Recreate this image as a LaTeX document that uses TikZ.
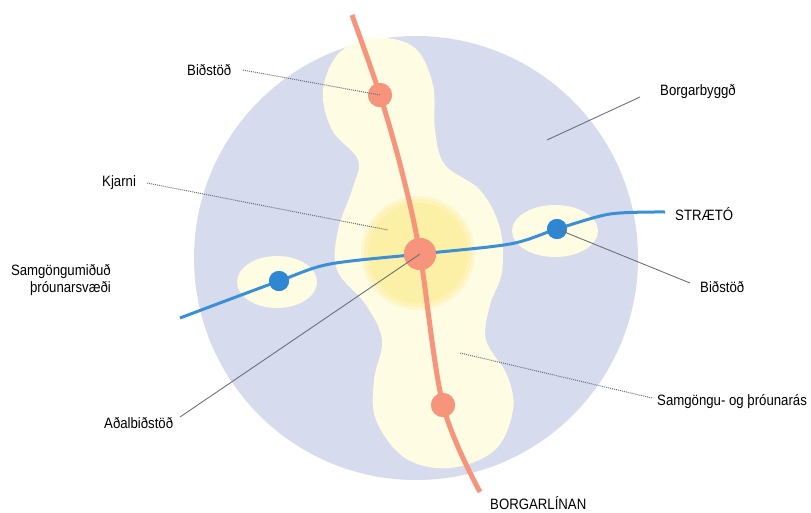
\documentclass[tikz,border=0pt]{standalone}
\usepackage{fontspec}
\setmainfont[FakeStretch=0.88]{Liberation Sans}
\definecolor{cityc}{HTML}{D6DBEE}
\definecolor{palec}{HTML}{FEFCE2}
\definecolor{corec}{HTML}{FCEFA6}
\definecolor{orangec}{HTML}{F6957C}
\definecolor{bluec}{HTML}{3B8FD5}
\definecolor{bluest}{HTML}{2E87D3}
\definecolor{leadc}{HTML}{6C7079}
\begin{document}
\begin{tikzpicture}[x=1pt,y=-1pt,
  lbl/.style={font=\fontsize{15}{17}\selectfont, inner sep=0pt, text=black},
  leader/.style={draw=leadc, line width=0.9pt},
  dotleader/.style={draw=leadc, line width=1pt, densely dotted},
  ostation/.style={circle, fill=orangec, inner sep=0pt},
  bstation/.style={circle, fill=bluest, inner sep=0pt, minimum size=20pt}]
\useasboundingbox (0,0) rectangle (811,512);
% city area
\fill[cityc] (416,258) circle (222);
% corridor
\fill[palec] plot[smooth cycle, tension=0.6] coordinates {
 (378,38) (415,48) (433,85) (435,130) (445,165) (480,190) (500,228) (502,272)
 (490,305) (486,340) (507,375) (513,410) (495,450) (450,468) (405,458) (376,420)
 (374,380) (382,340) (366,305) (337,270) (338,230) (352,190) (358,160) (332,130)
 (323,90) (340,52)};
\fill[palec] (277,282) ellipse (40 and 26);
\fill[palec] (555,231) ellipse (43 and 26);
% core
\fill[corec!35!palec] (418,253) circle (57);
\fill[corec!70!palec] (418,253) circle (54);
\fill[corec] (418,253) circle (50);
% stations
\node[ostation, minimum size=24pt] (s1) at (380,95) {};
\node[ostation, minimum size=32pt] (hub) at (420,254) {};
\node[ostation, minimum size=24pt] (s3) at (443,405) {};
\node[bstation] (b1) at (279,281) {};
\node[bstation] (b2) at (557,229) {};
% line coordinates
\coordinate (oA) at (352,15);
\coordinate (oB) at (402,172);
\coordinate (oE) at (480,492);
\coordinate (bA) at (180,318);
\coordinate (bB) at (330,264);
\coordinate (bC) at (510,244);
\coordinate (bD) at (610,214);
\coordinate (bE) at (665,212);
% Borgarlinan
\draw[orangec, line width=5pt] plot[smooth, tension=0.55] coordinates {(oA) (s1.center) (oB) (hub.center) (s3.center) (oE)};
% Straeto
\draw[bluec, line width=3pt] plot[smooth, tension=0.5] coordinates {(bA) (b1.center) (bB) (hub.center) (bC) (b2.center) (bD) (bE)};
\node[ostation, minimum size=24pt] at (s1) {};
\node[ostation, minimum size=32pt] at (hub) {};
\node[ostation, minimum size=24pt] at (s3) {};
\node[bstation] at (b1) {};
\node[bstation] at (b2) {};
% labels
\node[lbl, anchor=west] (tBid) at (187,70) {Biðstöð};
\node[lbl, anchor=west] (tKj) at (102,183) {Kjarni};
\node[lbl, anchor=west] (tBorg) at (660,92) {Borgarbyggð};
\node[lbl, anchor=west] (tStr) at (675,214) {STRÆTÓ};
\node[lbl, anchor=west] (tBid2) at (700,287) {Biðstöð};
\node[lbl, anchor=east, align=right] (tSam) at (111,280) {Samgöngumiðuð\\þróunarsvæði};
\node[lbl, anchor=west] (tAdal) at (104,423) {Aðalbiðstöð};
\node[lbl, anchor=west] (tAs) at (657,402) {Samgöngu- og þróunarás};
\node[lbl, anchor=west] (tBL) at (490,503) {BORGARLÍNAN};
% leader ends
\coordinate (lBid) at (243,70);
\coordinate (lKj) at (147,183);
\coordinate (eKj) at (388,230);
\coordinate (lBorg) at (640,97);
\coordinate (eBorg) at (547,140);
\coordinate (lBid2) at (690,283);
\coordinate (lAdal) at (180,417);
\coordinate (lAs) at (652,398);
\coordinate (eAs) at (460,353);
% leaders
\draw[dotleader] (lBid) -- (s1.center);
\draw[dotleader] (lKj) -- (eKj);
\draw[leader] (lBorg) -- (eBorg);
\draw[leader] (lBid2) -- (b2.center);
\draw[leader] (lAdal) -- (hub.center);
\draw[dotleader] (lAs) -- (eAs);
\end{tikzpicture}
\end{document}
